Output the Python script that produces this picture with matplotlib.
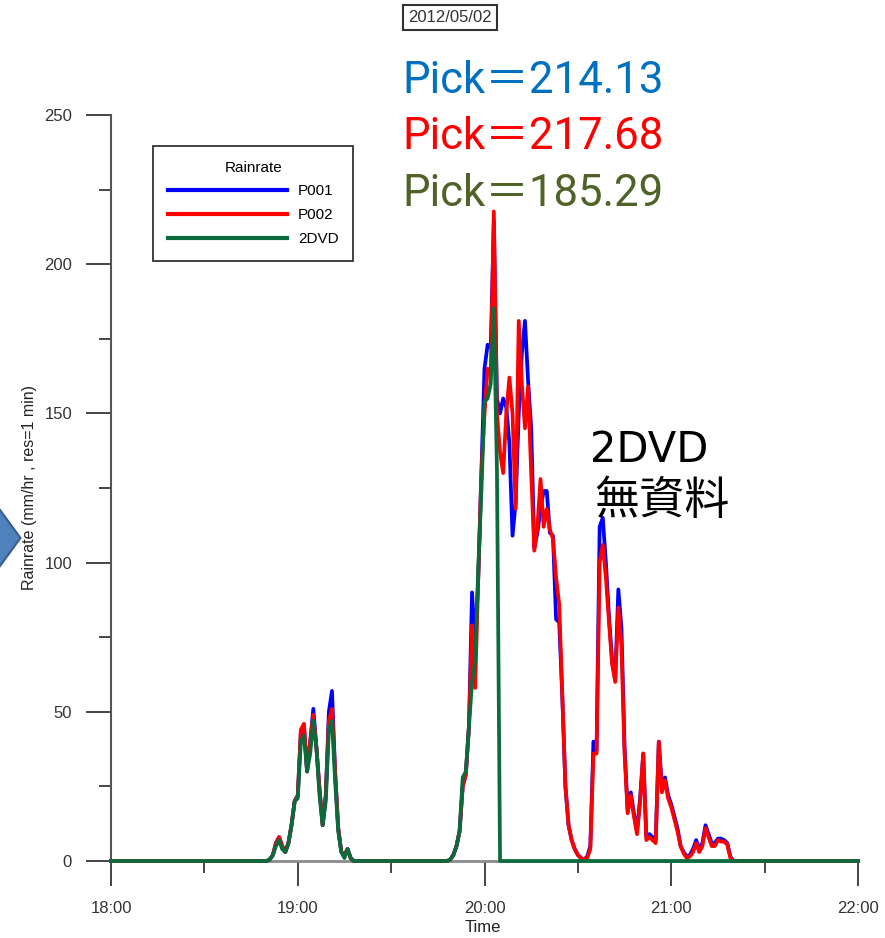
import matplotlib

matplotlib.use("Agg")

import matplotlib.pyplot as plt
import numpy as np
from matplotlib.patches import Polygon
from matplotlib.ticker import FuncFormatter, MultipleLocator

plt.rcParams["font.family"] = ["Liberation Sans", "DejaVu Sans"]

# 1-min rain rate (mm/hr), minutes counted from 18:00, two rain episodes.
start_a = 50
p001_a = [0, 0.5, 2, 6, 8, 5, 3, 6, 12, 20, 22, 43, 45, 30, 40, 51, 38, 24, 12, 22,
          50, 57, 30, 11, 3, 2, 4, 1, 0, 0]
p002_a = [0, 0.5, 2, 6, 8, 5, 3, 6, 12, 20, 22, 44, 46, 30, 40, 49, 38, 24, 12, 22,
          47, 51, 30, 11, 3, 2, 4, 1, 0, 0]
dvd_a = [0, 0.5, 2, 5, 7, 4, 3, 6, 12, 20, 21, 40, 42, 30, 36, 47, 38, 22, 12, 20,
         44, 47, 27, 10, 3, 1, 4, 1, 0, 0]

start_b = 106
p001_b = [0, 0, 0, 0.5, 2, 5, 10, 25, 29, 45, 90, 72, 95, 130, 165, 173, 172, 214.13,
          155, 150, 155, 152, 140, 109, 120, 150, 170, 181, 161, 145, 105, 110, 118,
          124, 124, 110, 109, 81, 80, 55, 25, 12, 7, 4, 2, 1, 0.5, 1.5, 5, 40, 37,
          112, 115, 100, 82, 67, 61, 91, 78, 38, 17, 23, 16, 10, 21, 36, 8, 9, 8, 7,
          40, 25, 28, 22, 19, 15, 11, 5, 3, 1.5, 2, 4, 7, 4, 6, 12, 9, 6, 6, 7.5,
          7.5, 7, 6, 1.5, 0, 0]
p002_b = [0, 0, 0, 0.5, 2, 5, 10, 25, 29, 45, 79, 58, 95, 130, 150, 165, 163, 217.68,
          150, 137, 130, 150, 162, 150, 118, 181, 160, 145, 159, 130, 104, 112, 128,
          112, 118, 111, 108, 95, 86, 55, 25, 12, 7, 4, 2, 1, 0.5, 1, 4, 36, 36, 100,
          106, 95, 80, 66, 60, 85, 72, 36, 16, 22, 15, 9, 20, 36, 7, 8, 7, 6, 40, 23,
          27, 21, 18, 14, 10, 5, 2.5, 1, 1.5, 3, 6, 3, 5, 11, 8, 5, 5, 7, 6.5, 6.5,
          5.5, 1, 0, 0]
dvd_b = [0, 0, 0, 0.5, 2, 5, 10, 28, 30, 45, 60, 67, 98, 124, 154, 155, 160, 185.29,
         131, 0]

minutes = np.arange(0, 241)


def full_series(start, values):
    """Place an episode on the 18:00-22:00 minute axis; the rest is no rain."""
    out = np.zeros(minutes.size)
    out[start:start + len(values)] = values
    return out


p001 = full_series(start_a, p001_a) + full_series(start_b, p001_b)
p002 = full_series(start_a, p002_a) + full_series(start_b, p002_b)
dvd = full_series(start_a, dvd_a) + full_series(start_b, dvd_b)

W, H = 885, 938
fig = plt.figure(figsize=(W / 100, H / 100), dpi=100)
ax = fig.add_axes([111 / W, 1 - 861 / H, 747 / W, 746 / H])

green = "#0B6B3A"
lw = 2.7
ax.plot(minutes, p001, color="#0000FF", lw=lw, label="P001", clip_on=False, zorder=3)
ax.plot(minutes, p002, color="#FF0000", lw=lw, label="P002", clip_on=False, zorder=4)
ax.plot(minutes, dvd, color=green, lw=lw, label="2DVD", clip_on=False, zorder=5)

ax.set_xlim(0, 240)
ax.set_ylim(0, 250)
for side in ("top", "right"):
    ax.spines[side].set_visible(False)
ax.spines["left"].set_color("#555555")
ax.spines["left"].set_linewidth(1.5)
ax.spines["bottom"].set_color("#8a8a8a")
ax.spines["bottom"].set_linewidth(2.0)

ax.yaxis.set_major_locator(MultipleLocator(50))
ax.yaxis.set_minor_locator(MultipleLocator(25))
ax.xaxis.set_major_locator(MultipleLocator(60))
ax.xaxis.set_minor_locator(MultipleLocator(30))
ax.xaxis.set_major_formatter(
    FuncFormatter(lambda m, _: f"{18 + int(m) // 60}:{int(m) % 60:02d}"))
ax.tick_params(which="major", direction="out", length=18, width=1.4, color="#444444",
               labelsize=12, labelcolor="#333333")
ax.tick_params(which="minor", direction="out", length=8.6, width=1.4, color="#444444")
ax.tick_params(axis="y", which="major", pad=10)
ax.tick_params(axis="x", which="major", pad=11)

leg = ax.legend(title="Rainrate", loc="upper left",
                bbox_to_anchor=(153 / W, 1 - 146 / H), bbox_transform=fig.transFigure,
                borderaxespad=0, fontsize=11, title_fontsize=11, handlelength=7.8,
                handletextpad=0.75, labelspacing=0.65, borderpad=0.95,
                fancybox=False, framealpha=1)
leg.get_frame().set_edgecolor("#333333")
leg.get_frame().set_linewidth(1.3)
for line in leg.get_lines():
    line.set_linewidth(3)

fig.text(30 / W, 1 - 487 / H, "Rainrate (mm/hr , res=1 min)", rotation=90,
         ha="center", va="center", fontsize=11.5, color="#222222")
fig.text(483 / W, 1 - 927 / H, "Time", ha="center", va="center", fontsize=12,
         color="#222222")

fig.text(450 / W, 1 - 18 / H, "2012/05/02", ha="center", va="center", fontsize=12,
         color="#333333",
         bbox=dict(boxstyle="square,pad=0.3", facecolor="white", edgecolor="#333333",
                   linewidth=1.5))

pick_font = ["Roboto", "Noto Sans CJK TC"]
picks = [("Pick＝214.13", "#0070C0", 93), ("Pick＝217.68", "#FF0000", 149),
         ("Pick＝185.29", "#4F6228", 206)]
for txt, col, base in picks:
    fig.text(402 / W, 1 - base / H, txt, color=col, fontsize=31.5, family=pick_font,
             ha="left", va="baseline")

fig.text(590 / W, 1 - 462 / H, "2DVD", color="black", fontsize=30,
         family=["DejaVu Sans"], ha="left", va="baseline")
fig.text(594 / W, 1 - 514 / H, "無資料", color="black", fontsize=32.5,
         family=["Noto Sans CJK TC"], ha="left", va="baseline")

# Blue pointer shape sitting at the left edge
pts = np.array([(-8, 499), (20.5, 538), (-8, 577)])
arrow = Polygon(np.column_stack([pts[:, 0] / W, 1 - pts[:, 1] / H]), closed=True,
                facecolor="#4F81BD", edgecolor="#385D8A", linewidth=1.5,
                transform=fig.transFigure, clip_on=False)
fig.patches.append(arrow)

fig.savefig("out.png", dpi=100)
